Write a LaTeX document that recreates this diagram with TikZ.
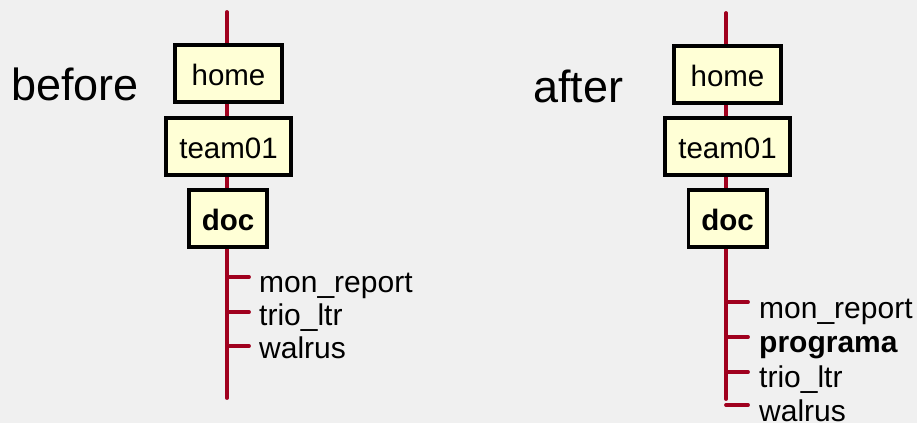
\documentclass[tikz,border=0pt]{standalone}
\usepackage{fontspec}
\setmainfont{Liberation Sans}
\definecolor{bg}{HTML}{F0F0F0}
\definecolor{trunk}{HTML}{A0001E}
\definecolor{boxfill}{HTML}{FFFFD6}
\tikzset{
  dirbox/.style={draw=black, line width=3.8pt, fill=boxfill, inner sep=0pt,
    minimum height=57.2pt, text height=23pt, text depth=0pt,
    font=\fontsize{29.5}{35}\selectfont},
  trunkline/.style={draw=trunk, line width=3.8pt, line cap=round},
  child/.style={anchor=base west, inner sep=0pt, font=\fontsize{30}{35}\selectfont},
  biglabel/.style={anchor=base west, inner sep=0pt, font=\fontsize{45}{50}\selectfont},
}
\begin{document}
\begin{tikzpicture}[x=1pt,y=-1pt]
\fill[bg] (0,0) rectangle (917,423);
\useasboundingbox (0,0) rectangle (917,423);
% ---- before ----
\node[biglabel] (before) at (11,100) {before};
\coordinate (topL) at (227,12);
\coordinate (botL) at (227,398);
\draw[trunkline] (topL) -- (botL);
\node[dirbox, minimum width=107.2pt] (homeL) at (228.5,73.5) {home};
\node[dirbox, minimum width=125.2pt] (teamL) at (228.5,146.5) {team01};
\node[dirbox, minimum width=78.2pt] (docL) at (228,218.5) {\bfseries doc};
\coordinate (tL1) at (227,277);
\coordinate (tL2) at (227,312);
\coordinate (tL3) at (227,346);
\node[child] (monL) at (259,292) {mon\_report};
\node[child] (trioL) at (259,325) {trio\_ltr};
\node[child] (walL) at (259,358) {walrus};
\foreach \t in {tL1,tL2,tL3} \draw[trunkline] (\t) -- ++(22,0);
% ---- after ----
\node[biglabel] (after) at (533,102) {after};
\coordinate (topR) at (726,13);
\coordinate (botR) at (726,399);
\draw[trunkline] (topR) -- (botR);
\node[dirbox, minimum width=107.2pt] (homeR) at (727.5,74.5) {home};
\node[dirbox, minimum width=125.2pt] (teamR) at (727.5,146.5) {team01};
\node[dirbox, minimum width=78.2pt] (docR) at (727.5,218.5) {\bfseries doc};
\coordinate (tR1) at (726,302);
\coordinate (tR2) at (726,337);
\coordinate (tR3) at (726,372);
\coordinate (tR4) at (726,405);
\node[child] (monR) at (759,318) {mon\_report};
\node[child] (progR) at (759,352) {\bfseries programa};
\node[child] (trioR) at (759,387) {trio\_ltr};
\node[child] (walR) at (759,421) {walrus};
\foreach \t in {tR1,tR2,tR3,tR4} \draw[trunkline] (\t) -- ++(22,0);
\end{tikzpicture}
\end{document}
